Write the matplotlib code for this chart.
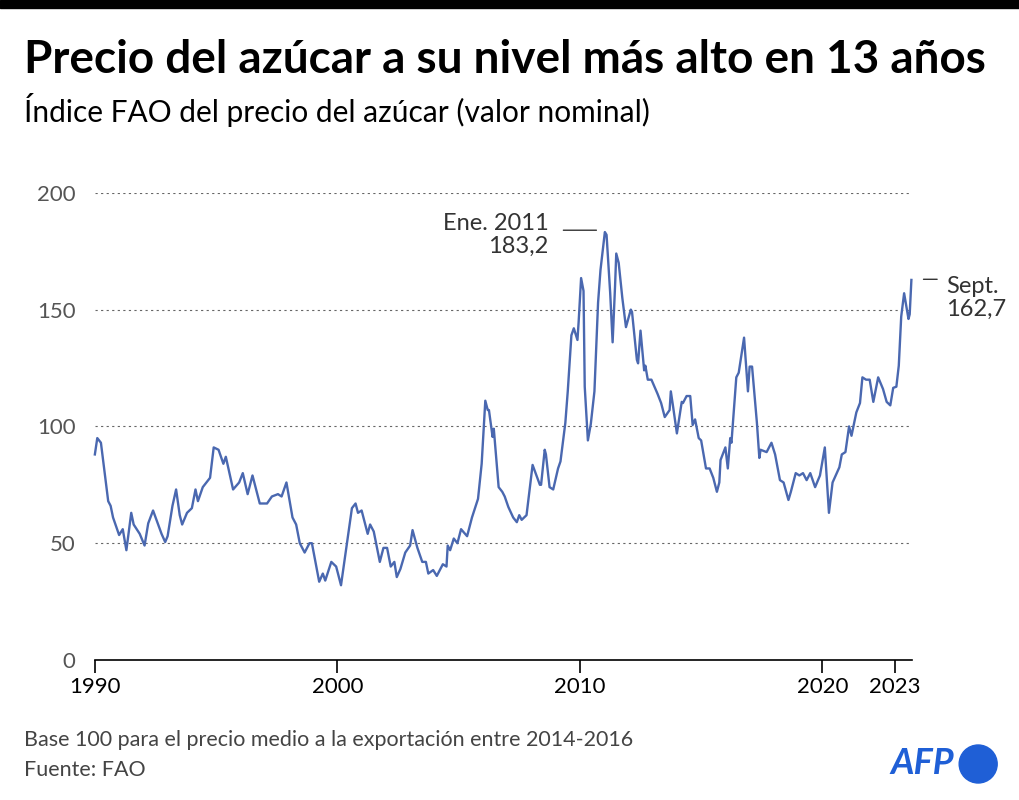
import matplotlib
matplotlib.use("Agg")
import matplotlib.pyplot as plt
from matplotlib.patches import Circle

plt.rcParams['font.family'] = ['Lato', 'DejaVu Sans']

# fractional year, FAO sugar price index
years = [
    1990.0, 1990.1, 1990.25, 1990.55, 1990.65, 1990.75, 1991.0, 1991.15, 1991.3, 1991.5,
    1991.6, 1991.85, 1992.05, 1992.2, 1992.4, 1992.75, 1992.9, 1993.0, 1993.2, 1993.35,
    1993.5, 1993.6, 1993.8, 1994.0, 1994.15, 1994.25, 1994.45, 1994.75, 1994.9, 1995.1,
    1995.3, 1995.4, 1995.7, 1995.95, 1996.1, 1996.3, 1996.5, 1996.8, 1997.1, 1997.3,
    1997.55, 1997.7, 1997.9, 1998.15, 1998.3, 1998.45, 1998.65, 1998.85, 1998.95, 1999.25,
    1999.4, 1999.5, 1999.75, 1999.95, 2000.15, 2000.3, 2000.6, 2000.75, 2000.85, 2001.0,
    2001.25, 2001.35, 2001.5, 2001.75, 2001.9, 2002.05, 2002.2, 2002.35, 2002.45, 2002.6,
    2002.8, 2003.0, 2003.1, 2003.3, 2003.5, 2003.65, 2003.75, 2003.95, 2004.1, 2004.35,
    2004.5, 2004.55, 2004.65, 2004.8, 2004.95, 2005.1, 2005.35, 2005.55, 2005.8, 2005.95,
    2006.1, 2006.2, 2006.25, 2006.4, 2006.45, 2006.65, 2006.8, 2006.9, 2007.05, 2007.25,
    2007.4, 2007.5, 2007.6, 2007.8, 2008.05, 2008.35, 2008.4, 2008.55, 2008.6, 2008.75,
    2008.9, 2009.1, 2009.2, 2009.4, 2009.5, 2009.65, 2009.75, 2009.9, 2009.95, 2010.05,
    2010.15, 2010.2, 2010.33, 2010.45, 2010.6, 2010.75, 2010.85, 2011.03, 2011.1, 2011.25,
    2011.35, 2011.45, 2011.5, 2011.6, 2011.75, 2011.9, 2012.1, 2012.15, 2012.35, 2012.4,
    2012.5, 2012.65, 2012.7, 2012.8, 2012.95, 2013.2, 2013.35, 2013.5, 2013.7, 2013.75,
    2013.85, 2014.0, 2014.2, 2014.25, 2014.4, 2014.55, 2014.65, 2014.75, 2014.9, 2015.0,
    2015.2, 2015.35, 2015.5, 2015.65, 2015.75, 2015.8, 2016.0, 2016.1, 2016.2, 2016.25,
    2016.45, 2016.55, 2016.77, 2016.93, 2017.0, 2017.1, 2017.3, 2017.4, 2017.45, 2017.7,
    2017.9, 2018.05, 2018.25, 2018.4, 2018.6, 2018.7, 2018.9, 2019.05, 2019.2, 2019.35,
    2019.5, 2019.7, 2019.9, 2020.1, 2020.27, 2020.42, 2020.55, 2020.7, 2020.8, 2020.95,
    2021.1, 2021.2, 2021.4, 2021.55, 2021.65, 2021.8, 2021.95, 2022.1, 2022.3, 2022.5,
    2022.65, 2022.8, 2022.92, 2023.05, 2023.15, 2023.25, 2023.37, 2023.55, 2023.6, 2023.67,
]
values = [
    88, 95, 93, 68, 66, 61, 53.5, 56, 47, 63,
    58, 54, 49, 58.5, 64, 54, 50.5, 53, 66, 73,
    62, 58, 63, 65, 73, 68, 74, 78, 91, 90,
    84, 87, 73, 76, 80, 71, 79, 67, 67, 70,
    71, 70, 76, 61, 58, 50, 46, 50, 50, 33.5,
    37, 34, 42, 40, 32, 43, 65, 67, 63, 64,
    54, 58, 55, 42, 48, 48, 40, 42, 35.5, 39,
    46, 49, 55.6, 48, 42, 42, 37, 38.5, 36, 41,
    40, 49, 47, 52, 50, 56, 53, 61, 69, 84,
    111, 107, 107, 95.5, 99, 74, 72, 70, 65.5, 61,
    59, 62, 60, 62, 83.5, 75, 75, 90, 88, 74,
    73, 82, 85, 101.5, 115, 139, 142, 137, 145, 163.5,
    158, 117, 94, 101, 115, 153, 167, 183.2, 182, 157,
    136, 160, 174, 170, 155, 142.5, 150, 149, 128.5, 127,
    141, 124, 126, 120, 120, 114, 110, 104, 107, 115,
    108, 97, 110.5, 110, 113, 113, 100.6, 103, 95, 94,
    82, 82, 78, 72, 76, 85.6, 91, 82, 95, 93,
    121, 123, 138, 115, 125.6, 125.6, 101.5, 86.5, 90, 89,
    93, 88, 77, 76, 68.5, 72, 80, 79, 80, 77,
    80, 74, 79, 91, 63, 76, 79, 82.5, 88, 89,
    100, 96, 106, 110, 121, 120, 120, 110.5, 121, 116,
    110.5, 109, 116.5, 117, 126, 147, 157, 146, 148, 162.7,
]
yticks = [0, 50, 100, 150, 200]
xticks = [1990, 2000, 2010, 2020, 2023]

fig = plt.figure(figsize=(10.2, 8), dpi=100)
fig.patches.append(plt.Rectangle((0, 0.99), 1, 0.01, transform=fig.transFigure,
                                 color="black", zorder=5))

fig.text(0.024, 0.925, "Precio del azúcar a su nivel más alto en 13 años",
         fontsize=33, fontweight="bold", va="center")
fig.text(0.024, 0.862, "Índice FAO del precio del azúcar (valor nominal)",
         fontsize=21.5, va="center")

ax = fig.add_axes([0.093, 0.175, 0.801, 0.584])
ax.plot(years, values, color="#4a68b0", linewidth=1.7, clip_on=False)
ax.set_xlim(1990, 2023.69)
ax.set_ylim(0, 200)

for y in yticks[1:]:
    ax.axhline(y, color="#666666", linestyle=(0, (2, 3)), linewidth=0.8, zorder=0)

for s in ["top", "right", "left"]:
    ax.spines[s].set_visible(False)
ax.spines["bottom"].set_linewidth(1.2)

ax.set_yticks(yticks)
ax.set_yticklabels([str(v) for v in yticks], fontsize=16, color="#555555")
ax.tick_params(axis="y", length=0, pad=14)
ax.set_xticks(xticks)
ax.set_xticklabels([str(v) for v in xticks], fontsize=16)
ax.tick_params(axis="x", length=9, width=1.2, pad=3)

# annotations
ax.annotate("", xy=(2010.8, 184), xytext=(2009.2, 184),
            arrowprops=dict(arrowstyle="-", color="black", lw=0.8), annotation_clip=False)
ax.text(2008.7, 182, "Ene. 2011\n183,2", ha="right", va="center", fontsize=17,
        linespacing=1.15, color="#333333")
ax.annotate("", xy=(2024.85, 163), xytext=(2024.05, 163),
            arrowprops=dict(arrowstyle="-", color="black", lw=0.8), annotation_clip=False)
ax.text(2025.1, 155, "Sept.\n162,7", ha="left", va="center", fontsize=17,
        linespacing=1.15, color="#333333", clip_on=False)

fig.text(0.024, 0.075, "Base 100 para el precio medio a la exportación entre 2014-2016",
         fontsize=15.5, color="#444444", va="center")
fig.text(0.024, 0.038, "Fuente: FAO", fontsize=15.5, color="#444444", va="center")

# AFP logo
fig.text(0.935, 0.045, "AFP", fontsize=26, fontweight="bold", fontstyle="italic",
         color="#1f5fd6", ha="right", va="center")
fig.patches.append(Circle((0.959 * 10.2, 0.045 * 8), 0.19,
                          transform=fig.dpi_scale_trans, color="#1f5fd6"))

fig.savefig("out.png", dpi=100)
